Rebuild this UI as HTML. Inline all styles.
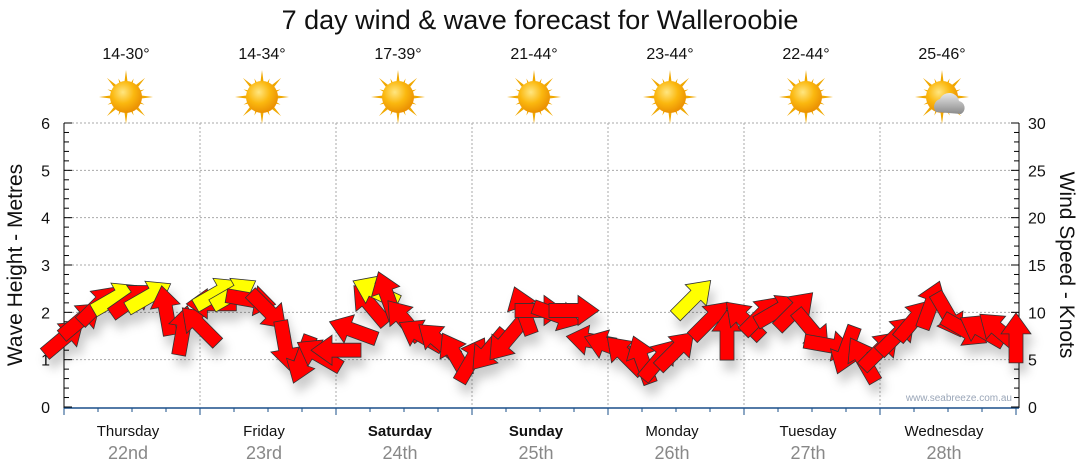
<!DOCTYPE html>
<html><head><meta charset="utf-8"><style>
body{margin:0;background:#fff;}
svg{display:block;font-family:"Liberation Sans",sans-serif;}
</style></head><body>
<svg id="c" width="1080" height="475" viewBox="0 0 1080 475">
<defs>
<filter id="sh" x="-50%" y="-50%" width="200%" height="200%"><feDropShadow dx="4" dy="10" stdDeviation="5" flood-color="#000" flood-opacity="0.2"/></filter>
<radialGradient id="sun" cx="40%" cy="35%" r="70%"><stop offset="0" stop-color="#ffe680"/><stop offset="0.5" stop-color="#fbb80f"/><stop offset="1" stop-color="#e88a00"/></radialGradient>
<linearGradient id="cloud" x1="0" y1="0" x2="0" y2="1"><stop offset="0" stop-color="#e8e8e8"/><stop offset="1" stop-color="#8a8a8a"/></linearGradient>
</defs>
<text x="540" y="29" text-anchor="middle" font-size="27" fill="#111">7 day wind &amp; wave forecast for Walleroobie</text>
<g id="grid"></g>
<g id="axes"></g>
<g id="wx"></g>
<g id="marks" filter="url(#sh)"></g>
<text x="1012" y="401" text-anchor="end" font-size="10" fill="#9aa6b8">www.seabreeze.com.au</text>
<text transform="translate(22,265) rotate(-90)" text-anchor="middle" font-size="21" fill="#111">Wave Height - Metres</text>
<text transform="translate(1060,265) rotate(90)" text-anchor="middle" font-size="21" fill="#111">Wind Speed - Knots</text>
</svg>
<script>
const days=["Thursday","Friday","Saturday","Sunday","Monday","Tuesday","Wednesday"];
const dates=["22nd","23rd","24th","25th","26th","27th","28th"];
const boldDays=[false,false,true,true,false,false,false];
const temps=["14-30°","14-34°","17-39°","21-44°","23-44°","22-44°","25-46°"];
const cloudy=[false,false,false,false,false,false,true];
const leftTicks=[0,1,2,3,4,5,6];
const rightTicks=[0,5,10,15,20,25,30];
const hours=[0,3,6,9,12,15,18,21,24,26,27,30,33,36,39,42,45,48,51,54,55,57,60,63,66,69,72,75,78,81,84,87,90,93,96,99,102,105,108,111,114,117,120,123,126,129,132,135,138,141,144,147,150,153,156,159,162,165,168];
const speed=[7.3,9.2,10.8,11.5,11.3,11.7,10.2,8.1,8.6,10.9,12,12,11.3,10.2,6.5,5,5.5,6,8.1,10.8,12.2,11.8,9.2,7.6,7,5.5,5,6,7,10.2,10.2,9.7,10.2,7,6.5,5.5,5,5,6,11.5,9.2,7.6,9.2,9.7,10.2,10.2,8.1,6.5,6,5,6,7.6,9.2,10.8,9.7,8.1,8.1,8.1,7.3];
const dirs=[50,50,45,60,55,60,-10,10,-45,-90,60,60,100,135,170,200,-60,-90,-70,-40,-65,-20,-40,-60,-50,-30,30,220,220,-20,90,110,90,-80,-70,-45,-20,40,45,45,45,0,-45,45,60,45,140,100,200,-30,45,45,40,20,150,120,-60,-50,0];
const gust=[0,0,0,1,0,1,0,0,0,0,1,1,0,0,0,0,0,0,0,0,1,0,0,0,0,0,0,0,0,0,0,0,0,0,0,0,0,0,0,1,0,0,0,0,0,0,0,0,0,0,0,0,0,0,0,0,0,0,0];

const NS="http://www.w3.org/2000/svg";
const X0=64,X1=1016,Y0=407,Y1=123;
const xH=h=>X0+h/168*(X1-X0);
const yM=m=>Y0-m/6*(Y0-Y1);
const yK=k=>Y0-k/30*(Y0-Y1);
function mk(t,a,p){const e=document.createElementNS(NS,t);for(const k in a)e.setAttribute(k,a[k]);p.appendChild(e);return e;}
const grid=document.getElementById('grid'),axes=document.getElementById('axes'),wx=document.getElementById('wx'),marks=document.getElementById('marks');
leftTicks.forEach(v=>{if(v>0){const g=mk('line',{x1:X0,x2:1019,y1:yM(v),y2:yM(v),stroke:'#aaa','stroke-dasharray':'2,2'},grid);

}});
for(let d=1;d<7;d++){const g=mk('line',{x1:xH(d*24),x2:xH(d*24),y1:Y1,y2:Y0,stroke:'#aaa','stroke-dasharray':'2,2'},grid);

}
mk('line',{x1:X0,x2:X0,y1:Y1,y2:Y0+1,stroke:'#000'},axes);
mk('line',{x1:1019,x2:1019,y1:Y1,y2:Y0+1,stroke:'#000'},axes);
mk('line',{x1:X0,x2:1019,y1:Y0+1,y2:Y0+1,stroke:'#1a4f8a','stroke-width':1.5},axes);
for(let i=0;i<=30;i++){const y=yM(i*0.2);const L=i%5==0?8:5;
mk('line',{x1:X0,x2:X0+L,y1:y,y2:y,stroke:'#000'},axes);
mk('line',{x1:1019-L,x2:1019,y1:y,y2:y,stroke:'#000'},axes);}
for(let h=0;h<=168;h+=6){mk('line',{x1:xH(h),x2:xH(h),y1:Y0+1,y2:Y0+(h%24==0?8:5),stroke:'#1a4f8a'},axes);}
leftTicks.forEach(v=>{const t=mk('text',{x:50,y:yM(v)+6,'text-anchor':'end','font-size':16,fill:'#111'},axes);t.textContent=v;

});
rightTicks.forEach(v=>{const t=mk('text',{x:1028,y:yK(v)+6,'font-size':16,fill:'#111'},axes);t.textContent=v;

});
days.forEach((d,i)=>{const cx=xH(i*24+12);
const a=mk('text',{x:cx-4,y:436,'text-anchor':'middle','font-size':15,fill:'#111','font-weight':boldDays[i]?'bold':'normal'},axes);a.textContent=d;


const b=mk('text',{x:cx-4,y:459,'text-anchor':'middle','font-size':18,fill:'#888'},axes);b.textContent=dates[i];


const t=mk('text',{x:cx-6,y:59,'text-anchor':'middle','font-size':16,fill:'#111'},wx);t.textContent=temps[i];


const g=mk('g',{transform:`translate(${cx-6},97)`},wx);


for(let r=0;r<16;r++){const L=r%2?20:27;mk('polygon',{points:`-3.5,0 3.5,0 0,${-L}`,fill:'#f0a800',transform:`rotate(${r*22.5})`},g);}
mk('circle',{r:16,fill:'url(#sun)'},g);
if(cloudy[i]){mk('path',{d:'M-6,15 a8,8 0 0 1 4,-13 a10,10 0 0 1 19,2 a7,7 0 0 1 2,13 z',fill:'url(#cloud)'},g);}
});
const arrowPath='M-25,-7 L4,-7 L4,-15 L25,0 L4,15 L4,7 L-25,7 Z';
hours.forEach((h,i)=>{const ang=dirs[i]-90;
const p=mk('path',{d:arrowPath,transform:`translate(${xH(h)},${yK(speed[i])}) rotate(${ang})`,fill:gust[i]?'#ffff00':'#ff0000',stroke:'#333','stroke-width':0.8},marks);

});
</script>
</body></html>
